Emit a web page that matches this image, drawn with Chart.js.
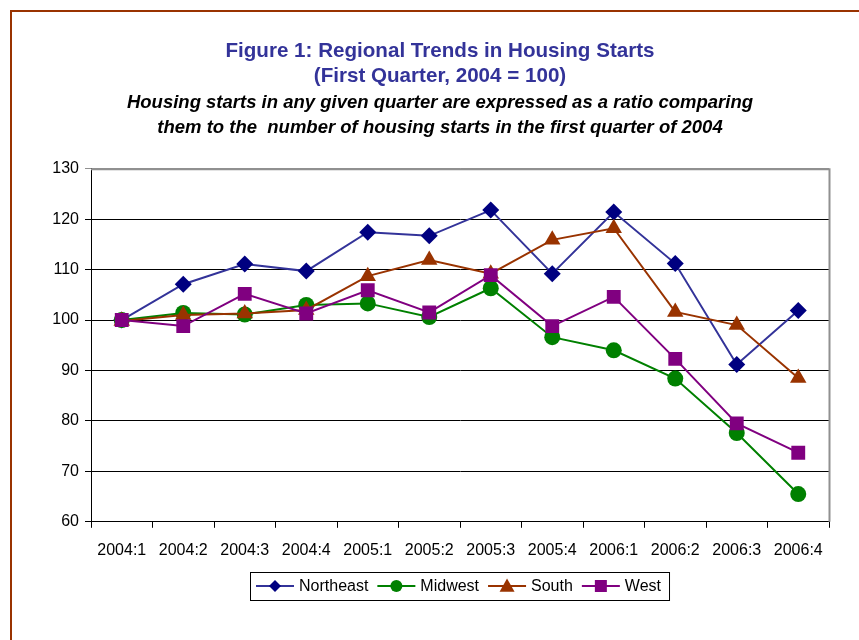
<!DOCTYPE html>
<html><head><meta charset="utf-8">
<script src="https://cdn.jsdelivr.net/npm/chart.js@4"></script>
<style>html,body{margin:0;padding:0;background:#fff}#wrap{width:859px;height:640px;position:relative}</style>
</head><body><div id="wrap"><canvas id="c" width="859" height="640"></canvas></div>
<script>
const categories = ['2004:1','2004:2','2004:3','2004:4','2005:1','2005:2','2005:3','2005:4','2006:1','2006:2','2006:3','2006:4'];
const northeast = [100, 107.1, 111.1, 109.7, 117.4, 116.7, 121.8, 109.2, 121.4, 111.2, 91.2, 101.9];
const midwest   = [100, 101.4, 101.1, 103.0, 103.3, 100.6, 106.3, 96.6, 94.0, 88.4, 77.6, 65.5];
const south     = [99.8, 101.0, 101.3, 102.0, 108.7, 111.9, 109.2, 115.9, 118.2, 101.6, 99.0, 88.5];
const west      = [100, 98.8, 105.2, 101.3, 105.9, 101.5, 108.9, 98.8, 104.6, 92.3, 79.5, 73.7];
const yMin = 60, yMax = 130, yStep = 10;
const titleLines = ['Figure 1: Regional Trends in Housing Starts', '(First Quarter, 2004 = 100)'];
const subtitleLines = ['Housing starts in any given quarter are expressed as a ratio comparing', 'them to the  number of housing starts in the first quarter of 2004'];

const FONT = "Arial, 'Liberation Sans', sans-serif";

function drawMarker(ctx, style, x, y, r, color) {
  ctx.save();
  ctx.fillStyle = color;
  ctx.beginPath();
  if (style === 'circle') {
    ctx.arc(x, y, r, 0, Math.PI * 2);
  } else if (style === 'rectRot') {
    ctx.moveTo(x, y - r); ctx.lineTo(x + r, y); ctx.lineTo(x, y + r); ctx.lineTo(x - r, y);
  } else if (style === 'triangle') {
    ctx.moveTo(x, y - r); ctx.lineTo(x + r, y + r * 0.75); ctx.lineTo(x - r, y + r * 0.75);
  } else {
    ctx.rect(x - r, y - r, 2 * r, 2 * r);
  }
  ctx.closePath();
  ctx.fill();
  ctx.restore();
}

const framePlugin = {
  id: 'frame',
  beforeDraw(chart) {
    const ctx = chart.ctx;
    ctx.save();
    ctx.fillStyle = '#fff';
    ctx.fillRect(0, 0, chart.width, chart.height);
    ctx.strokeStyle = '#993300';
    ctx.lineWidth = 2;
    ctx.strokeRect(11, 11, 1000, 1000);
    ctx.restore();
  },
  beforeDatasetsDraw(chart) {
    const {ctx, chartArea: a} = chart;
    ctx.save();
    ctx.strokeStyle = '#909090';
    ctx.lineWidth = 2;
    ctx.beginPath();
    ctx.moveTo(a.left, a.top + 0.5);
    ctx.lineTo(a.right + 0.5, a.top + 0.5);
    ctx.lineTo(a.right + 0.5, a.bottom);
    ctx.stroke();
    ctx.restore();
  }
};

const legendSizes = {rectRot: 6, circle: 6, triangle: 7.5, rect: 6};
const legendPlugin = {
  id: 'customLegend',
  afterDraw(chart) {
    const {ctx, chartArea: a} = chart;
    const ds = chart.data.datasets;
    ctx.save();
    ctx.font = '16px ' + FONT;
    const lineLen = 38, gapText = 5, gapItem = 9, padL = 6, padR = 8;
    let total = padL + padR;
    const widths = ds.map(d => ctx.measureText(d.label).width);
    widths.forEach((w, i) => { total += lineLen + gapText + w + (i < ds.length - 1 ? gapItem : 0); });
    const cx = (a.left + a.right) / 2;
    const left = Math.round(cx - total / 2);
    const top = 572, h = 28, cy = top + h / 2;
    ctx.fillStyle = '#fff';
    ctx.fillRect(left, top, total, h);
    ctx.strokeStyle = '#000';
    ctx.lineWidth = 1;
    ctx.strokeRect(left + 0.5, top + 0.5, total, h);
    let x = left + padL;
    ds.forEach((d, i) => {
      ctx.strokeStyle = d.borderColor;
      ctx.lineWidth = 2;
      ctx.beginPath();
      ctx.moveTo(x, cy); ctx.lineTo(x + lineLen, cy);
      ctx.stroke();
      drawMarker(ctx, d.pointStyle, x + lineLen / 2, cy, legendSizes[d.pointStyle], d.pointBackgroundColor);
      x += lineLen + gapText;
      ctx.fillStyle = '#000';
      ctx.textAlign = 'left';
      ctx.textBaseline = 'middle';
      ctx.fillText(d.label, x, cy + 1);
      x += widths[i] + gapItem;
    });
    ctx.restore();
  }
};

function mk(label, data, line, pt, style, radius, order) {
  return {
    label, data, order,
    borderColor: line, backgroundColor: pt,
    pointBackgroundColor: pt, pointBorderColor: pt,
    borderWidth: 2, pointBorderWidth: 0,
    pointStyle: style, pointRadius: radius, pointHoverRadius: radius,
    tension: 0, fill: false
  };
}

new Chart(document.getElementById('c'), {
  type: 'line',
  data: {
    labels: categories,
    datasets: [
      mk('Northeast', northeast, '#333399', '#000080', 'rectRot', 8.5, 4),
      mk('Midwest', midwest, '#008000', '#008000', 'circle', 8, 3),
      mk('South', south, '#993300', '#993300', 'triangle', 9.5, 2),
      mk('West', west, '#800080', '#800080', 'rect', 9.8, 1)
    ]
  },
  options: {
    responsive: false,
    animation: false,
    events: [],
    layout: {padding: {left: 51, right: 30, top: 26, bottom: 67}},
    plugins: {
      legend: {display: false},
      tooltip: {enabled: false},
      title: {
        display: true, text: titleLines, color: '#333399',
        font: {family: FONT, size: 20.6, weight: 'bold', lineHeight: 1.22},
        padding: {top: 12.5, bottom: 1}
      },
      subtitle: {
        display: true, text: subtitleLines, color: '#000',
        font: {family: FONT, size: 18.5, weight: 'bold', style: 'italic', lineHeight: 1.35},
        padding: {top: 1, bottom: 28}
      }
    },
    scales: {
      x: {
        type: 'category', offset: true,
        grid: {offset: true, drawOnChartArea: false, drawTicks: true, tickLength: 6, color: '#000', lineWidth: 1},
        border: {display: true, color: '#000', width: 1},
        ticks: {color: '#000', font: {family: FONT, size: 16}, padding: 13, maxRotation: 0, autoSkip: false}
      },
      y: {
        min: yMin, max: yMax,
        afterFit(s) { s.width = 40; },
        grid: {
          drawTicks: true, tickLength: 6, lineWidth: 1,
          color: c => (c.tick && c.tick.value === yMax) ? '#909090' : '#000'
        },
        border: {display: true, color: '#000', width: 1},
        ticks: {stepSize: yStep, color: '#000', font: {family: FONT, size: 16}, padding: 6}
      }
    }
  },
  plugins: [framePlugin, legendPlugin]
});
</script>
</body></html>
